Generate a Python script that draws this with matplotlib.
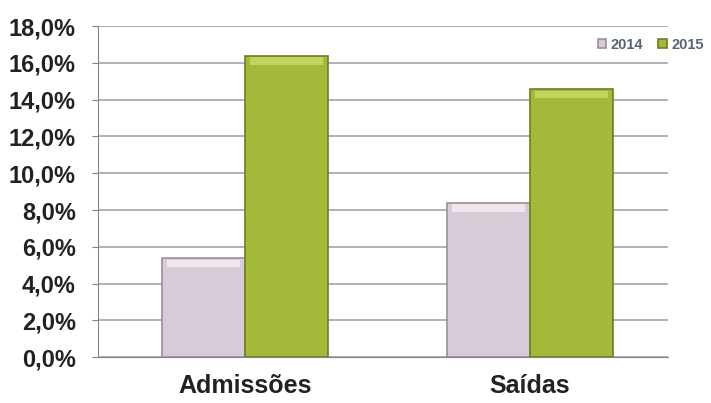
import matplotlib

matplotlib.use("Agg")
import matplotlib.pyplot as plt
import numpy as np
from matplotlib.ticker import FuncFormatter

categories = ["Admissões", "Saídas"]
years = ["2014", "2015"]
vals_2014 = [5.4, 8.4]
vals_2015 = [16.4, 14.6]

plt.rcParams["font.family"] = ["Liberation Sans Narrow", "Liberation Sans", "DejaVu Sans"]

fig = plt.figure(figsize=(7.11, 4.03), dpi=100)
ax = fig.add_axes([0.138, 0.114, 0.802, 0.821])

x = np.arange(len(categories))
w = 0.29
b1 = ax.bar(x - w / 2, vals_2014, w, color="#d6cbd6", edgecolor="#9a8f9a",
            linewidth=1.2, label=years[0], zorder=3)
b2 = ax.bar(x + w / 2, vals_2015, w, color="#a4b83a", edgecolor="#6f7d22",
            linewidth=1.2, label=years[1], zorder=3)

# lighter bevel strip on top of each bar
for bars, cap in ((b1, "#eee8ee"), (b2, "#c2d460")):
    for r in bars:
        h = r.get_height()
        ax.bar(r.get_x() + r.get_width() / 2, 0.4, r.get_width() * 0.88,
               bottom=h - 0.5, color=cap, zorder=4, linewidth=0)

ax.set_xlim(-0.515, 1.485)
ax.set_ylim(0, 18)
ax.set_yticks(np.arange(0, 18.1, 2))
ax.yaxis.set_major_formatter(FuncFormatter(lambda v, _: f"{v:.1f}%".replace(".", ",")))
ax.grid(axis="y", color="#aaa0aa", linewidth=1.2, zorder=0)
ax.set_xticks(x)
ax.set_xticklabels(categories, fontsize=18, fontweight="bold", color="#222222")
ax.tick_params(axis="x", length=0, pad=12)
ax.tick_params(axis="y", length=4, color="#8a808a", labelsize=17, labelcolor="#222222", pad=12)
for t in ax.get_yticklabels():
    t.set_fontweight("bold")

for s in ("top", "right"):
    ax.spines[s].set_visible(False)
ax.spines["left"].set_color("#8a808a")
ax.spines["bottom"].set_color("#8a808a")

leg = ax.legend(loc="upper right", bbox_to_anchor=(1.085, 1.005), ncol=2, frameon=False,
                handlelength=0.6, handleheight=0.6, handletextpad=0.3, columnspacing=1.0,
                prop={"size": 10.5, "weight": "bold"})
for t in leg.get_texts():
    t.set_color("#5a6470")

fig.savefig("out.png", dpi=100, facecolor="white")
